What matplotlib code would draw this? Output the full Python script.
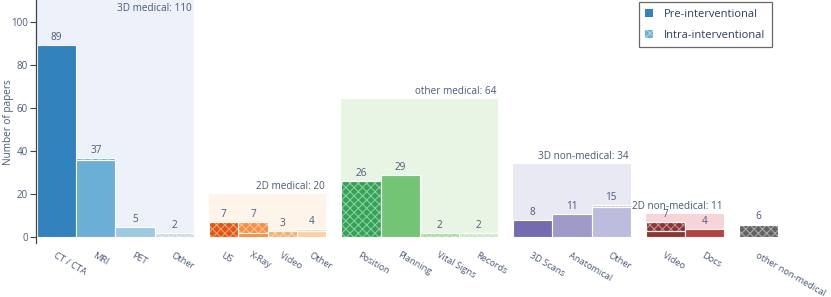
import numpy as np
import matplotlib.pyplot as plt
from matplotlib.patches import Patch
from matplotlib.colors import to_rgb

plt.rcParams['font.family'] = ['Open Sans', 'DejaVu Sans']
plt.rcParams['hatch.linewidth'] = 0.8

# data
groups = ["3D medical", "2D medical", "other medical", "3D non-medical", "2D non-medical", "other non-medical"]
group_totals = [110, 20, 64, 34, 11, None]
categories = [
    ["CT / CTA", "MRI", "PET", "Other"],
    ["US", "X-Ray", "Video", "Other"],
    ["Position", "Planning", "Vital Signs", "Records"],
    ["3D Scans", "Anatomical", "Other"],
    ["Video", "Docs"],
    ["other non-medical"],
]
pre = [[89, 36, 5, 0], [0, 2, 0, 3], [0, 29, 0, 0], [8, 11, 14], [3, 4], [0]]
intra = [[0, 1, 0, 2], [7, 5, 3, 1], [26, 0, 2, 2], [0, 0, 1], [4, 0], [6]]

# styles
bar_colors = [
    ["#3182bd", "#6baed6", "#9ecae1", "#c6dbef"],
    ["#e6550d", "#fd8d3c", "#fdae6b", "#fdd0a2"],
    ["#31a354", "#74c476", "#a1d99b", "#c7e9c0"],
    ["#756bb1", "#9e9ac8", "#bcbddc"],
    ["#8f3431", "#b8423f"],
    ["#636363"],
]
bg_colors = ["#edf2fa", "#fef4ea", "#e8f5e4", "#e9e9f3", "#f6d4d7", None]
group_widths = [1.0, 0.75, 1.0, 1.0, 1.0, 1.0]
gap = 15 / 39.2
txt = "#4a5a78"
fs = 7.2


def lighter(c, f=0.45):
    r = np.array(to_rgb(c))
    return tuple(r + (1 - r) * f)


fig = plt.figure(figsize=(8.31, 2.97), dpi=100)
ax = fig.add_axes([36 / 831, (297 - 243.5) / 297, 764 / 831, 243.5 / 297])

ymax = 110
ticks, ticklabels = [], []
x = 0.0
for g in range(len(groups)):
    w = group_widths[g]
    n = len(categories[g])
    start = x
    for i in range(n):
        cx = x + w / 2
        col = bar_colors[g][i]
        p, q = pre[g][i], intra[g][i]
        if p > 0:
            ax.bar(cx, p, width=w, color=col, edgecolor="white", linewidth=0.8, zorder=2)
        if q > 0:
            ax.bar(cx, q, bottom=p, width=w, color=col, edgecolor=lighter(col),
                   hatch="xxxx", linewidth=0, zorder=2)
            ax.bar(cx, q, bottom=p, width=w, fill=False, edgecolor="white", linewidth=0.8, zorder=3)
        ax.annotate(str(p + q), (cx, p + q), xytext=(0, 1.5), textcoords="offset points",
                    ha="center", va="bottom", fontsize=fs, color=txt, zorder=4)
        ticks.append(cx)
        ticklabels.append(categories[g][i])
        x += w
    end = x
    if group_totals[g] is not None:
        tot = group_totals[g]
        ax.bar((start + end) / 2, tot, width=end - start, color=bg_colors[g], linewidth=0, zorder=1)
        if tot >= ymax:
            ax.annotate(f"{groups[g]}: {tot}", (end, tot), xytext=(-1.5, -2), textcoords="offset points",
                        ha="right", va="top", fontsize=fs, color=txt, zorder=4)
        else:
            ax.annotate(f"{groups[g]}: {tot}", (end, tot), xytext=(-1.5, 1.5), textcoords="offset points",
                        ha="right", va="bottom", fontsize=fs, color=txt, zorder=4)
    x += gap

left = -1 / 39.2
ax.set_xlim(left, left + 764 / 39.2)
ax.set_ylim(-2.8, ymax)

ax.set_xticks(ticks)
ax.set_xticklabels(ticklabels, rotation=-30, ha="left", va="top", rotation_mode="anchor",
                   fontsize=6.7, color=txt)
ax.tick_params(axis="x", length=0, pad=5)
ax.set_yticks([0, 20, 40, 60, 80, 100])
ax.tick_params(axis="y", direction="out", length=4, width=0.8, color="#444444",
               labelsize=7, labelcolor=txt, pad=2)
for s in ["top", "right", "bottom"]:
    ax.spines[s].set_visible(False)
ax.spines["left"].set_color("#444444")
ax.spines["left"].set_linewidth(0.9)
ax.set_ylabel("Number of papers", fontsize=fs, color=txt)
ax.yaxis.set_label_coords(-22 / 764, 0.5)

handles = [
    Patch(facecolor="#3182bd", edgecolor="none"),
    Patch(facecolor="#6baed6", edgecolor=lighter("#6baed6"), hatch="xxxx", linewidth=0),
]
leg = fig.legend(handles, ["Pre-interventional", "Intra-interventional"],
                 loc="upper right", bbox_to_anchor=(772 / 831, 1 - 2 / 297), borderaxespad=0,
                 fontsize=8, frameon=True, fancybox=False, handlelength=0.7, handleheight=0.7,
                 handletextpad=1.0, borderpad=0.6, labelspacing=0.9, labelcolor="#2a3f5f")
leg.get_frame().set_edgecolor("#444444")
leg.get_frame().set_linewidth(0.9)

fig.savefig("out.png", dpi=100)
